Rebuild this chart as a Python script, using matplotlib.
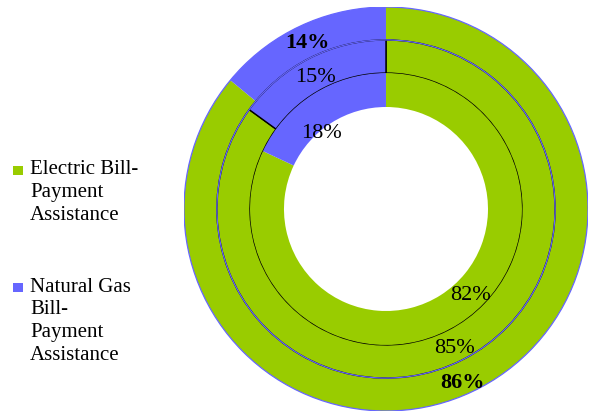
import matplotlib
matplotlib.use("Agg")
import matplotlib.pyplot as plt
from matplotlib.patches import Circle, Rectangle
import numpy as np

plt.rcParams['font.family'] = ['Liberation Serif', 'DejaVu Serif']

categorias = [["Electric Bill-", "Payment", "Assistance"],
              ["Natural Gas", "Bill-", "Payment", "Assistance"]]
anillo_externo = [86, 14]
anillo_medio = [85, 15]
anillo_interno = [82, 18]
colores = ['#99CC00', '#6666FF']

r_ext, r_med, r_int, r_hueco = 1.0, 0.837, 0.673, 0.505

W, H = 591, 417
fig = plt.figure(figsize=(W / 100, H / 100), dpi=100)
ax = fig.add_axes([0.3113, 0.0144, 0.6836, 0.9688])

# anillo externo (sin bordes)
ax.pie(anillo_externo, radius=r_ext, colors=colores, startangle=90, counterclock=False,
       wedgeprops=dict(width=r_ext - r_med, edgecolor='none'))
# anillo medio (bordes negros)
ax.pie(anillo_medio, radius=r_med, colors=colores, startangle=90, counterclock=False,
       wedgeprops=dict(width=r_med - r_int, edgecolor='black', linewidth=1.0))
# anillo interno
ax.pie(anillo_interno, radius=r_int, colors=colores, startangle=90, counterclock=False,
       wedgeprops=dict(width=r_int - r_hueco, edgecolor='none'))

# lineas azules finas
for r in (r_ext, r_med):
    ax.add_patch(Circle((0, 0), r, fill=False, edgecolor='#6666FF', linewidth=0.9, zorder=5))

def etiqueta(valor, inicio, r, ang_extra=0.0, **kw):
    # angulo medio de la cuña, medido desde arriba en sentido horario
    ang = np.deg2rad((inicio + valor / 2) * 3.6 + ang_extra)
    ax.text(r * np.sin(ang), r * np.cos(ang), f"{valor}%", ha='center', va='center',
            fontsize=16, zorder=6, **kw)

etiqueta(anillo_externo[0], 0, 0.94, 1.5, fontweight='bold')
etiqueta(anillo_externo[1], anillo_externo[0], 0.91, 0, fontweight='bold')
etiqueta(anillo_medio[0], 0, 0.77, 1)
etiqueta(anillo_medio[1], anillo_medio[0], 0.74, -1)
etiqueta(anillo_interno[0], 0, 0.60, -12)
etiqueta(anillo_interno[1], anillo_interno[0], 0.49, -8)

ax.set_xlim(-1, 1)
ax.set_ylim(-1, 1)
ax.set_aspect('equal')
ax.axis('off')

# leyenda manual (cuadro alineado con la primera linea)
inicio_y = [170, 287]
for lineas, color, y0 in zip(categorias, colores, inicio_y):
    fig.patches.append(Rectangle((13 / W, 1 - (y0 + 5) / H), 9.5 / W, 9.5 / H,
                                 transform=fig.transFigure, facecolor=color,
                                 edgecolor='none', figure=fig))
    for i, linea in enumerate(lineas):
        fig.text(30 / W, 1 - (y0 + i * 23) / H, linea, ha='left', va='center',
                 fontsize=15)

fig.savefig("out.png", dpi=100)
